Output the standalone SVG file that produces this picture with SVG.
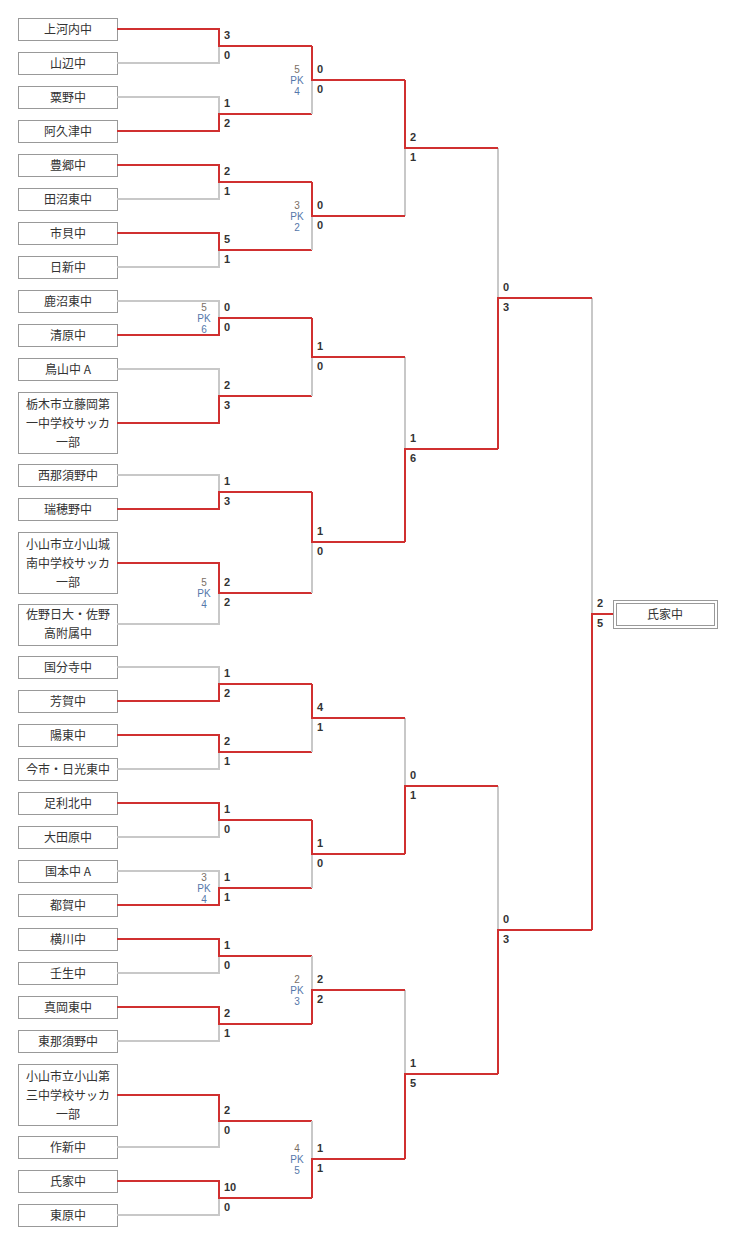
<svg xmlns="http://www.w3.org/2000/svg" width="736" height="1248" viewBox="0 0 736 1248">
<style>
.b{fill:#fff;stroke:#999;stroke-width:1}
.t{font-family:"Noto Sans CJK JP","Liberation Sans",sans-serif;font-size:12px;fill:#333;text-anchor:middle}
.s{font-family:"Liberation Sans",sans-serif;font-size:11px;font-weight:bold;fill:#333}
.pk{font-family:"Liberation Sans",sans-serif;font-size:10px;text-anchor:middle;fill:#5577aa}
.pt{fill:#7a6e64}
.g{fill:none;stroke:#c8c8c8;stroke-width:2}
.r{fill:none;stroke:#d03030;stroke-width:2}
</style>
<rect width="736" height="1248" fill="#fff"/>
<g id="teams">
<g id="n1"><rect class="b" x="18.5" y="18.5" width="99" height="22"/><text class="t" x="68" y="34">上河内中</text></g>
<g id="n2"><rect class="b" x="18.5" y="52.5" width="99" height="22"/><text class="t" x="68" y="68">山辺中</text></g>
<g id="n3"><rect class="b" x="18.5" y="86.5" width="99" height="22"/><text class="t" x="68" y="102">粟野中</text></g>
<g id="n4"><rect class="b" x="18.5" y="120.5" width="99" height="22"/><text class="t" x="68" y="136">阿久津中</text></g>
<g id="n5"><rect class="b" x="18.5" y="154.5" width="99" height="22"/><text class="t" x="68" y="170">豊郷中</text></g>
<g id="n6"><rect class="b" x="18.5" y="188.5" width="99" height="22"/><text class="t" x="68" y="204">田沼東中</text></g>
<g id="n7"><rect class="b" x="18.5" y="222.5" width="99" height="22"/><text class="t" x="68" y="238">市貝中</text></g>
<g id="n8"><rect class="b" x="18.5" y="256.5" width="99" height="22"/><text class="t" x="68" y="272">日新中</text></g>
<g id="n9"><rect class="b" x="18.5" y="290.5" width="99" height="22"/><text class="t" x="68" y="306">鹿沼東中</text></g>
<g id="n10"><rect class="b" x="18.5" y="324.5" width="99" height="22"/><text class="t" x="68" y="340">清原中</text></g>
<g id="n11"><rect class="b" x="18.5" y="358.5" width="99" height="22"/><text class="t" x="68" y="374">鳥山中 A</text></g>
<g id="n12"><rect class="b" x="18.5" y="392.5" width="99" height="61"/><text class="t" x="68" y="409">栃木市立藤岡第</text><text class="t" x="68" y="428">一中学校サッカ</text><text class="t" x="68" y="447">一部</text></g>
<g id="n13"><rect class="b" x="18.5" y="464.5" width="99" height="22"/><text class="t" x="68" y="480">西那須野中</text></g>
<g id="n14"><rect class="b" x="18.5" y="498.5" width="99" height="22"/><text class="t" x="68" y="514">瑞穂野中</text></g>
<g id="n15"><rect class="b" x="18.5" y="532.5" width="99" height="61"/><text class="t" x="68" y="549">小山市立小山城</text><text class="t" x="68" y="568">南中学校サッカ</text><text class="t" x="68" y="587">一部</text></g>
<g id="n16"><rect class="b" x="18.5" y="604.5" width="99" height="41"/><text class="t" x="68" y="619">佐野日大・佐野</text><text class="t" x="68" y="638">高附属中</text></g>
<g id="n17"><rect class="b" x="18.5" y="656.5" width="99" height="22"/><text class="t" x="68" y="672">国分寺中</text></g>
<g id="n18"><rect class="b" x="18.5" y="690.5" width="99" height="22"/><text class="t" x="68" y="706">芳賀中</text></g>
<g id="n19"><rect class="b" x="18.5" y="724.5" width="99" height="22"/><text class="t" x="68" y="740">陽東中</text></g>
<g id="n20"><rect class="b" x="18.5" y="758.5" width="99" height="22"/><text class="t" x="68" y="774">今市・日光東中</text></g>
<g id="n21"><rect class="b" x="18.5" y="792.5" width="99" height="22"/><text class="t" x="68" y="808">足利北中</text></g>
<g id="n22"><rect class="b" x="18.5" y="826.5" width="99" height="22"/><text class="t" x="68" y="842">大田原中</text></g>
<g id="n23"><rect class="b" x="18.5" y="860.5" width="99" height="22"/><text class="t" x="68" y="876">国本中 A</text></g>
<g id="n24"><rect class="b" x="18.5" y="894.5" width="99" height="22"/><text class="t" x="68" y="910">都賀中</text></g>
<g id="n25"><rect class="b" x="18.5" y="928.5" width="99" height="22"/><text class="t" x="68" y="944">横川中</text></g>
<g id="n26"><rect class="b" x="18.5" y="962.5" width="99" height="22"/><text class="t" x="68" y="978">壬生中</text></g>
<g id="n27"><rect class="b" x="18.5" y="996.5" width="99" height="22"/><text class="t" x="68" y="1012">真岡東中</text></g>
<g id="n28"><rect class="b" x="18.5" y="1030.5" width="99" height="22"/><text class="t" x="68" y="1046">東那須野中</text></g>
<g id="n29"><rect class="b" x="18.5" y="1064.5" width="99" height="61"/><text class="t" x="68" y="1081">小山市立小山第</text><text class="t" x="68" y="1100">三中学校サッカ</text><text class="t" x="68" y="1119">一部</text></g>
<g id="n30"><rect class="b" x="18.5" y="1136.5" width="99" height="22"/><text class="t" x="68" y="1152">作新中</text></g>
<g id="n31"><rect class="b" x="18.5" y="1170.5" width="99" height="22"/><text class="t" x="68" y="1186">氏家中</text></g>
<g id="n32"><rect class="b" x="18.5" y="1204.5" width="99" height="22"/><text class="t" x="68" y="1220">東原中</text></g>
<g id="champion"><rect class="b" x="613.5" y="600.5" width="104" height="28"/><rect class="b" x="616.5" y="603.5" width="98" height="22"/><text class="t" x="665" y="619">氏家中</text></g>
</g>
<g id="connectors">
<path class="g" d="M117 63H219V46M117 97H219V114M117 199H219V182M117 267H219V250M117 301H219V318M117 369H219V396M117 475H219V492M117 624H219V593M117 667H219V684M117 769H219V752M117 837H219V820M117 871H219V888M117 973H219V956M117 1041H219V1024M117 1147H219V1121M117 1215H219V1198"/>
<path class="r" d="M117 29H219V46H312M117 131H219V114H312M117 165H219V182H312M117 233H219V250H312M117 335H219V318H312M117 423H219V396H312M117 509H219V492H312M117 563H219V593H312M117 701H219V684H312M117 735H219V752H312M117 803H219V820H312M117 905H219V888H312M117 939H219V956H312M117 1007H219V1024H312M117 1095H219V1121H312M117 1181H219V1198H312"/>
<path class="g" d="M312 114V80M312 250V216M312 396V357M312 593V542M312 752V718M312 888V854M312 956V990M312 1121V1159M405 216V148M405 357V449M405 718V786M405 990V1074M498 148V298M498 786V930M592 298V614"/>
<path class="r" d="M312 46V80H405M312 182V216H405M312 318V357H405M312 492V542H405M312 684V718H405M312 820V854H405M312 1024V990H405M312 1198V1159H405M405 80V148H498M405 542V449H498M405 854V786H498M405 1159V1074H498M498 449V298H592M498 1074V930H592M592 930V614H613"/>
</g>
<g id="scores" class="s">
<text x="224" y="39">3</text><text x="224" y="59">0</text>
<text x="224" y="107">1</text><text x="224" y="127">2</text>
<text x="224" y="175">2</text><text x="224" y="195">1</text>
<text x="224" y="243">5</text><text x="224" y="263">1</text>
<text x="224" y="311">0</text><text x="224" y="331">0</text>
<text x="224" y="389">2</text><text x="224" y="409">3</text>
<text x="224" y="485">1</text><text x="224" y="505">3</text>
<text x="224" y="586">2</text><text x="224" y="606">2</text>
<text x="224" y="677">1</text><text x="224" y="697">2</text>
<text x="224" y="745">2</text><text x="224" y="765">1</text>
<text x="224" y="813">1</text><text x="224" y="833">0</text>
<text x="224" y="881">1</text><text x="224" y="901">1</text>
<text x="224" y="949">1</text><text x="224" y="969">0</text>
<text x="224" y="1017">2</text><text x="224" y="1037">1</text>
<text x="224" y="1114">2</text><text x="224" y="1134">0</text>
<text x="224" y="1191">10</text><text x="224" y="1211">0</text>
<text x="317" y="73">0</text><text x="317" y="93">0</text>
<text x="317" y="209">0</text><text x="317" y="229">0</text>
<text x="317" y="350">1</text><text x="317" y="370">0</text>
<text x="317" y="535">1</text><text x="317" y="555">0</text>
<text x="317" y="711">4</text><text x="317" y="731">1</text>
<text x="317" y="847">1</text><text x="317" y="867">0</text>
<text x="317" y="983">2</text><text x="317" y="1003">2</text>
<text x="317" y="1152">1</text><text x="317" y="1172">1</text>
<text x="410" y="141">2</text><text x="410" y="161">1</text>
<text x="410" y="442">1</text><text x="410" y="462">6</text>
<text x="410" y="779">0</text><text x="410" y="799">1</text>
<text x="410" y="1067">1</text><text x="410" y="1087">5</text>
<text x="503" y="291">0</text><text x="503" y="311">3</text>
<text x="503" y="923">0</text><text x="503" y="943">3</text>
<text x="597" y="607">2</text><text x="597" y="627">5</text>
</g>
<g id="pk" class="pk">
<text class="pt" x="297" y="73">5</text><text x="297" y="84">PK</text><text x="297" y="95">4</text>
<text class="pt" x="297" y="209">3</text><text x="297" y="220">PK</text><text x="297" y="231">2</text>
<text class="pt" x="204" y="311">5</text><text x="204" y="322">PK</text><text x="204" y="333">6</text>
<text class="pt" x="204" y="586">5</text><text x="204" y="597">PK</text><text x="204" y="608">4</text>
<text class="pt" x="204" y="881">3</text><text x="204" y="892">PK</text><text x="204" y="903">4</text>
<text class="pt" x="297" y="983">2</text><text x="297" y="994">PK</text><text x="297" y="1005">3</text>
<text class="pt" x="297" y="1152">4</text><text x="297" y="1163">PK</text><text x="297" y="1174">5</text>
</g>
</svg>
